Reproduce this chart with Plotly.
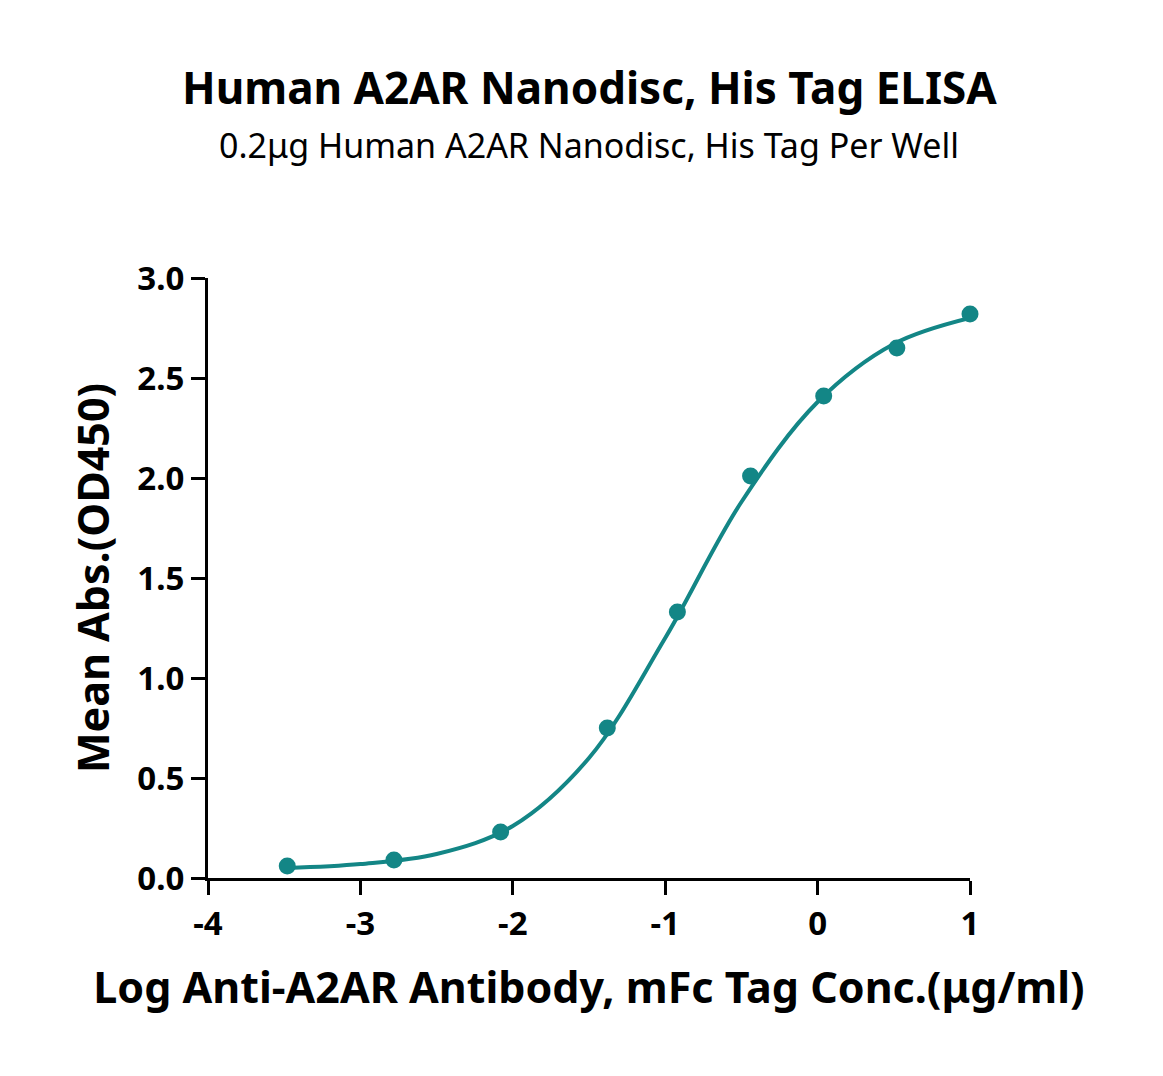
import plotly.graph_objects as go

x_pts = [-3.48, -2.78, -2.08, -1.38, -0.92, -0.44, 0.04, 0.52, 1.0]
y_pts = [0.06, 0.09, 0.23, 0.75, 1.33, 2.01, 2.41, 2.65, 2.82]
x_fit = [-3.48, -3.0, -2.5, -2.0, -1.5, -1.0, -0.5, 0.0, 0.5, 1.0]
y_fit = [0.05, 0.07, 0.12, 0.26, 0.60, 1.20, 1.88, 2.38, 2.67, 2.80]
x_ticks = [-4, -3, -2, -1, 0, 1]
y_ticks = [0.0, 0.5, 1.0, 1.5, 2.0, 2.5, 3.0]

c = "#138686"
fig = go.Figure()
fig.add_trace(go.Scatter(x=x_fit, y=y_fit, mode="lines", line=dict(color=c, width=4, shape="spline"), cliponaxis=False))
fig.add_trace(go.Scatter(x=x_pts, y=y_pts, mode="markers", marker=dict(color=c, size=17), cliponaxis=False))

font = "Noto Sans"
L, R, T, B = 200, 201, 270, 206
fig.update_layout(
    width=1163, height=1076, showlegend=False, plot_bgcolor="white", paper_bgcolor="white",
    margin=dict(l=L, r=R, t=T, b=B),
    font=dict(family=font, color="black"),
    annotations=[
        dict(text="<b>Human A2AR Nanodisc, His Tag ELISA</b>", showarrow=False, font=dict(size=44)),
        dict(text="0.2μg Human A2AR Nanodisc, His Tag Per Well", showarrow=False, font=dict(size=34)),
    ],
)
ph = 1076 - T - B
pw = 1163 - L - R
for a, py in zip(fig.layout.annotations, [47, 112]):
    a.xref = "paper"; a.yref = "paper"
    a.y = (1076 - B - py) / ph
    a.x = (581 - L) / pw

fig.update_xaxes(range=[-4, 1], tickvals=x_ticks, ticktext=[str(v) for v in x_ticks],
                 showgrid=False, zeroline=False, showline=True, linecolor="black", linewidth=3,
                 ticks="outside", ticklen=14, tickwidth=3, tickcolor="black",
                 tickfont=dict(size=33, family=font, weight="bold"),
                 title=dict(text="<b>Log Anti-A2AR Antibody, mFc Tag Conc.(μg/ml)</b>", font=dict(size=43), standoff=30))
fig.update_yaxes(range=[0, 3], tickvals=y_ticks, ticktext=[f"{v:.1f}" for v in y_ticks],
                 showgrid=False, zeroline=False, showline=True, linecolor="black", linewidth=3,
                 ticks="outside", ticklen=14, tickwidth=3, tickcolor="black",
                 tickfont=dict(size=33, family=font, weight="bold"),
                 title=dict(text="<b>Mean Abs.(OD450)</b>", font=dict(size=43), standoff=15))
fig.write_html("out.html")
